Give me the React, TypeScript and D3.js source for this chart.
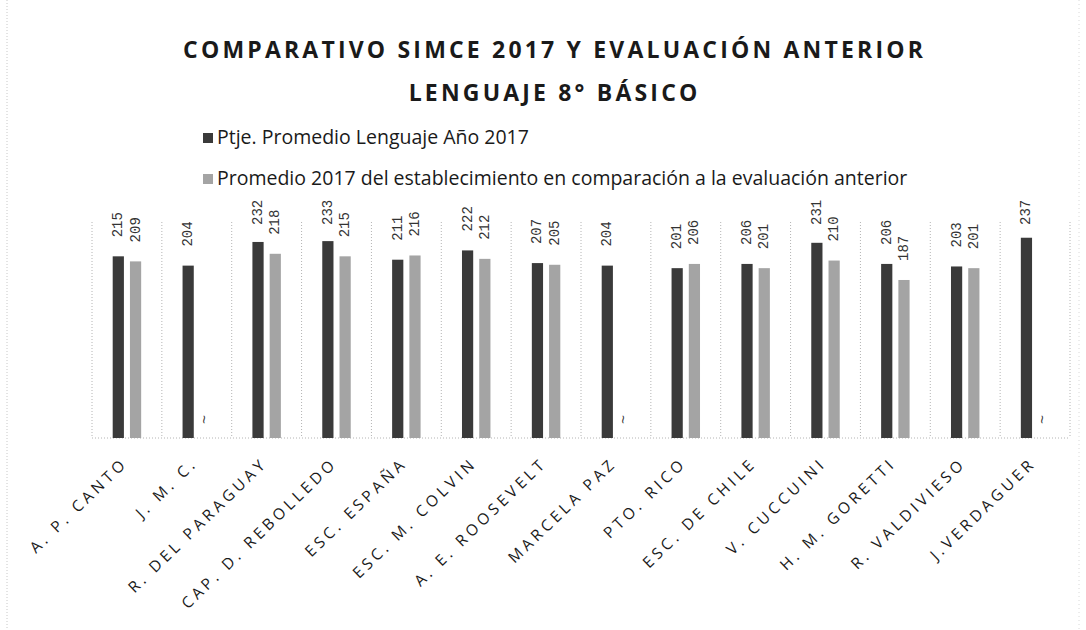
import React, { useEffect, useRef } from 'react';
import * as d3 from 'd3';

const categories = [
  'A. P. CANTO', 'J. M. C.', 'R. DEL PARAGUAY', 'CAP. D. REBOLLEDO', 'ESC. ESPAÑA',
  'ESC. M. COLVIN', 'A. E. ROOSEVELT', 'MARCELA PAZ', 'PTO. RICO', 'ESC. DE CHILE',
  'V. CUCCUINI', 'H. M. GORETTI', 'R. VALDIVIESO', 'J.VERDAGUER',
];
const seriesNames = [
  'Ptje. Promedio Lenguaje Año 2017',
  'Promedio 2017 del establecimiento en comparación a la evaluación anterior',
];
const ptje2017 = [215, 204, 232, 233, 211, 222, 207, 204, 201, 206, 231, 206, 203, 237];
const anterior = [209, null, 218, 215, 216, 212, 205, null, 206, 201, 210, 187, 201, null];
const titleLines = ['COMPARATIVO SIMCE 2017 Y EVALUACIÓN ANTERIOR', 'LENGUAJE 8° BÁSICO'];

const W = 1086;
const H = 630;

export default function App() {
  const svgRef = useRef<SVGSVGElement>(null);

  useEffect(() => {
    const svg = d3.select(svgRef.current);
    svg.selectAll('*').remove();

    const left = 92, right = 1070, top = 222, bottom = 438;
    const colors = ['#3a3a3a', '#a4a4a4'];
    const keys = ['a', 'b'];

    const rows = categories.map((c, i) => ({ cat: c, a: ptje2017[i], b: anterior[i] }));

    const x0 = d3.scaleBand().domain(categories).range([left, right]).padding(0);
    const x1 = d3.scaleBand().domain(keys).range([0, x0.bandwidth()])
      .paddingInner(0.35).paddingOuter(1.2);
    const y = d3.scaleLinear().domain([0, 250]).range([bottom, bottom - 250 * 0.845]);

    // page edges from the scan
    svg.append('line').attr('x1', 7).attr('x2', 7).attr('y1', 0).attr('y2', H)
      .attr('stroke', '#c8c8c8').attr('stroke-dasharray', '1,2');
    svg.append('line').attr('x1', 1079).attr('x2', 1079).attr('y1', 0).attr('y2', H)
      .attr('stroke', '#d8d8d8').attr('stroke-dasharray', '1,3');

    // title: letter spacing fitted so the first line runs 182 -> 925
    const t = svg.append('g').attr('font-family', '"Open Sans", sans-serif')
      .attr('font-weight', 'bold').attr('font-size', 23).attr('fill', '#1a1a1a')
      .attr('text-anchor', 'middle');
    const t1 = t.append('text').attr('x', 553).attr('y', 58).text(titleLines[0]);
    const nat = (t1.node() as SVGTextElement).getComputedTextLength();
    const ls = (743 - nat) / titleLines[0].length;
    t1.attr('letter-spacing', ls).attr('dx', ls / 2);
    t.append('text').attr('x', 553).attr('y', 101).attr('letter-spacing', ls).attr('dx', ls / 2)
      .text(titleLines[1]);

    // legend: font size fitted so the long entry ends at x = 908
    const legendY = [138, 179];
    const probe = svg.append('text').attr('font-family', '"Open Sans", sans-serif')
      .attr('font-size', 100).text(seriesNames[1]);
    const fs = 100 * 691 / (probe.node() as SVGTextElement).getComputedTextLength();
    probe.remove();
    seriesNames.forEach((name, i) => {
      svg.append('rect').attr('x', 203).attr('y', legendY[i] - 5).attr('width', 10).attr('height', 10)
        .attr('fill', colors[i]);
      svg.append('text').attr('x', 217).attr('y', legendY[i] + 6)
        .attr('font-family', '"Open Sans", sans-serif').attr('font-size', fs).attr('fill', '#1a1a1a')
        .text(name);
    });

    // category gridlines
    const bounds = categories.map(c => x0(c)!).concat([right]);
    svg.append('g').selectAll('line').data(bounds).join('line')
      .attr('x1', d => d).attr('x2', d => d).attr('y1', top).attr('y2', bottom)
      .attr('stroke', '#b4b4b4').attr('stroke-dasharray', '1,2');
    svg.append('line').attr('x1', left).attr('x2', right).attr('y1', bottom).attr('y2', bottom)
      .attr('stroke', '#b4b4b4').attr('stroke-dasharray', '1,2');

    // bars
    const groups = svg.append('g').selectAll('g').data(rows).join('g')
      .attr('transform', d => `translate(${x0(d.cat)},0)`);

    groups.selectAll('rect')
      .data(d => keys.map((k, i) => ({ k, i, v: (d as any)[k] as number | null })).filter(e => e.v != null))
      .join('rect')
      .attr('x', d => x1(d.k)!)
      .attr('y', d => y(d.v!))
      .attr('width', x1.bandwidth())
      .attr('height', d => bottom - y(d.v!))
      .attr('fill', d => colors[d.i]);

    // value labels, rotated; clamped near the top of the plot like the original
    const labelLen = 26;
    groups.selectAll('text.val')
      .data(d => keys.map((k, i) => ({ k, i, v: (d as any)[k] as number | null })))
      .join('text')
      .attr('class', 'val')
      .attr('font-family', '"Liberation Mono", monospace')
      .attr('fill', '#333')
      .attr('dominant-baseline', 'central')
      .attr('transform', d => {
        const cx = x1(d.k)! + x1.bandwidth() / 2;
        const yy = d.v == null ? bottom - 14 : Math.max(y(d.v) - 19, 199 + labelLen);
        return `translate(${cx},${yy}) rotate(-90)`;
      })
      .attr('font-size', d => (d.v == null ? 15 : 14))
      .text(d => (d.v == null ? '~' : String(d.v)));

    // category labels: spacing fitted so "A. P. CANTO" is ~129px long
    const cl = svg.append('g').attr('font-family', '"Open Sans", sans-serif')
      .attr('font-size', 15.5).attr('fill', '#1a1a1a').attr('text-anchor', 'end');
    const labels = cl.selectAll('text').data(categories).join('text')
      .attr('transform', c => `translate(${x0(c)! + x0.bandwidth() / 2 - 1},${bottom + 29}) rotate(-44)`)
      .text(c => c);
    const natL = (labels.nodes()[0] as SVGTextElement).getComputedTextLength();
    const lsL = (129 - natL) / categories[0].length;
    labels.attr('letter-spacing', lsL).attr('dx', lsL);
  }, []);

  return (
    <svg ref={svgRef} width={W} height={H}
      style={{ position: 'absolute', left: 0, top: 0, background: '#fff' }} />
  );
}
